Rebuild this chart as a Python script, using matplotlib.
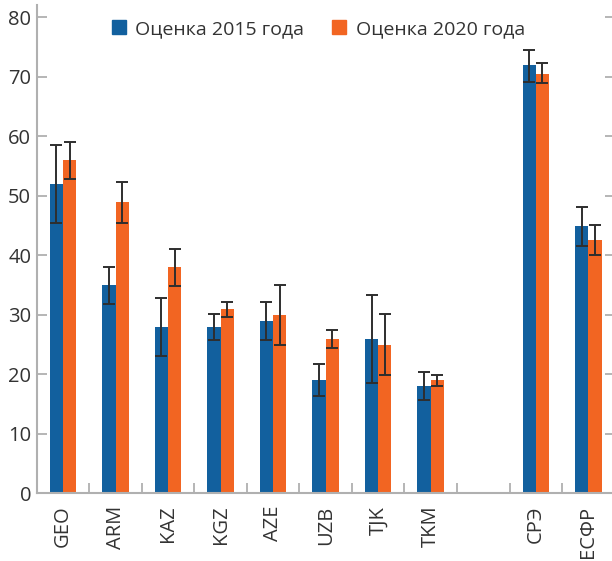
import matplotlib
matplotlib.use("Agg")
import matplotlib.pyplot as plt
import numpy as np
from matplotlib.lines import Line2D

plt.rcParams['font.family'] = ['Open Sans', 'Noto Sans', 'DejaVu Sans']

categories = ["GEO", "ARM", "KAZ", "KGZ", "AZE", "UZB", "TJK", "TKM", "СРЭ", "ЕСФР"]
positions = [0, 1, 2, 3, 4, 5, 6, 7, 9, 10]

v2015 = [52, 35, 28, 28, 29, 19, 26, 18, 72, 45]
lo2015 = [45.5, 31.9, 23.1, 25.7, 25.7, 16.3, 18.6, 15.6, 69.2, 41.6]
hi2015 = [58.5, 38.0, 32.9, 30.2, 32.2, 21.7, 33.3, 20.4, 74.5, 48.1]

v2020 = [56, 49, 38, 31, 30, 26, 25, 19, 70.5, 42.6]
lo2020 = [52.9, 45.5, 34.9, 29.6, 25.0, 24.5, 19.9, 18.1, 68.9, 40.1]
hi2020 = [59.1, 52.4, 41.1, 32.2, 35.0, 27.5, 30.1, 19.9, 72.3, 45.1]

labels = ["Оценка 2015 года", "Оценка 2020 года"]
c_blue = "#12609e"
c_orange = "#f26522"
txt = "#333333"
grey = "#b0b0b0"

W, H = 612, 561
fig = plt.figure(figsize=(W / 100, H / 100), dpi=100)
x0, x1 = 36.7, 614.6
y0, y1 = 493.3, 5.0
ax = fig.add_axes([x0 / W, 1 - y0 / H, (x1 - x0) / W, (y0 - y1) / H])

pos = np.array(positions, dtype=float)
w = 0.253
xb = pos - w / 2
xo = pos + w / 2
ax.bar(xb, v2015, width=w, color=c_blue, zorder=2)
ax.bar(xo, v2020, width=w, color=c_orange, zorder=2)

v15 = np.array(v2015); v20 = np.array(v2020)
e15 = [v15 - np.array(lo2015), np.array(hi2015) - v15]
e20 = [v20 - np.array(lo2020), np.array(hi2020) - v20]
ekw = dict(fmt="none", ecolor="#2e2e2e", elinewidth=1.4, capsize=4, capthick=1.4, zorder=3)
ax.errorbar(xb, v15, yerr=e15, **ekw)
ax.errorbar(xo, v20, yerr=e20, **ekw)

ax.set_xlim(-0.5, 10.5)
ax.set_ylim(0, (y0 - y1) / ((y0 - 17.4) / 80))

ax.set_yticks(range(0, 81, 10))
ax.set_xticks(pos)
ax.set_xticklabels(categories, rotation=90, fontsize=14.5, color=txt)
ax.set_xticks(np.arange(0.5, 10, 1), minor=True)

ax.tick_params(axis="x", which="major", length=0, pad=9)
ax.tick_params(axis="x", which="minor", direction="in", length=7, width=1.3, color=grey)
ax.tick_params(axis="y", which="major", direction="in", length=7, width=1.3, color=grey,
               labelsize=14.5, labelcolor=txt, pad=4, right=True)

for s in ["top", "right"]:
    ax.spines[s].set_visible(False)
for s in ["left", "bottom"]:
    ax.spines[s].set_color(grey)
    ax.spines[s].set_linewidth(1.5)

handles = [Line2D([], [], marker="s", linestyle="none", markersize=10.5, color=c_blue),
           Line2D([], [], marker="s", linestyle="none", markersize=10.5, color=c_orange)]
leg = fig.legend(handles, labels, loc="center left", bbox_to_anchor=(111 / W, 1 - 29 / H),
                 ncol=2, frameon=False, fontsize=14, handlelength=0.8, handletextpad=0.45,
                 columnspacing=1.4, borderaxespad=0, borderpad=0)
for t in leg.get_texts():
    t.set_color(txt)

fig.savefig("out.png", dpi=100)
